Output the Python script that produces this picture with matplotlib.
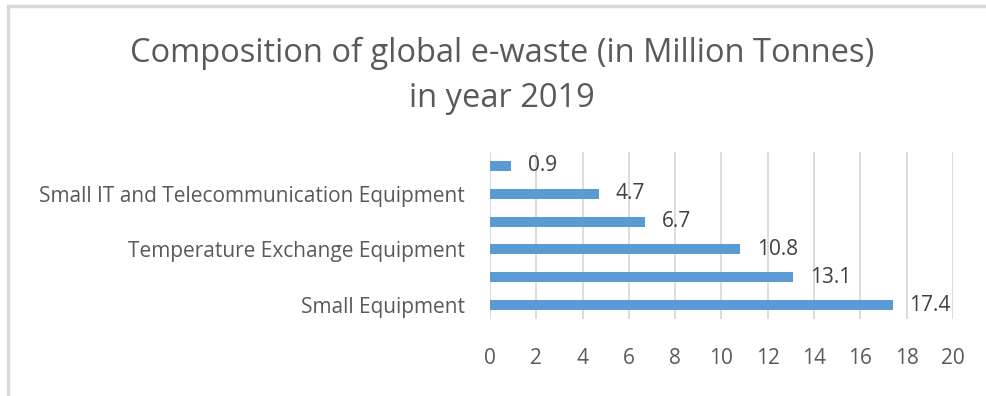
import numpy as np
import matplotlib.pyplot as plt
from matplotlib.patches import Rectangle

categories = ["Small Equipment", "Large Equipment", "Temperature Exchange Equipment",
              "Screens and Monitors", "Small IT and Telecommunication Equipment", "Lamps"]
values = [17.4, 13.1, 10.8, 6.7, 4.7, 0.9]
xticks = [0, 2, 4, 6, 8, 10, 12, 14, 16, 18, 20]

plt.rcParams['font.family'] = ['Open Sans', 'DejaVu Sans']

fig = plt.figure(figsize=(9.87, 3.96), dpi=100)
ax = fig.add_axes([0.4965, 0.1944, 0.469, 0.4218])

# chart area border (only left and top are visible in the crop)
fig.patches.append(Rectangle((8 / 987, -0.1), 1.2, 1.1 - 6 / 396, transform=fig.transFigure,
                             fill=False, edgecolor='#d9d9d9', linewidth=2.5))

y = np.arange(len(categories))
bars = ax.barh(y, values, height=0.36, color='#5b9bd5')
ax.bar_label(bars, labels=[f"{v:.1f}" for v in values], padding=12, fontsize=15, color='#404040')

# Excel skips every other category label for lack of room
ax.set_yticks(y)
ax.set_yticklabels([c if i % 2 == 0 else "" for i, c in enumerate(categories)])
ax.set_ylim(-0.5, len(categories) - 0.5)

ax.set_xlim(0, 20)
ax.set_xticks(xticks)
ax.tick_params(axis='x', length=0, pad=21, labelsize=15, labelcolor='#595959')
ax.tick_params(axis='y', length=0, pad=18, labelsize=15, labelcolor='#595959')
ax.grid(axis='x', color='#d9d9d9', linewidth=1.3)
ax.set_axisbelow(True)
for s in ax.spines.values():
    s.set_visible(False)

fig.text(502 / 987, 1 - 107 / 396, "Composition of global e-waste (in Million Tonnes)\nin year 2019",
         ha='center', va='baseline', fontsize=23.5, color='#595959', linespacing=1.48)

fig.savefig("out.png", dpi=100)
